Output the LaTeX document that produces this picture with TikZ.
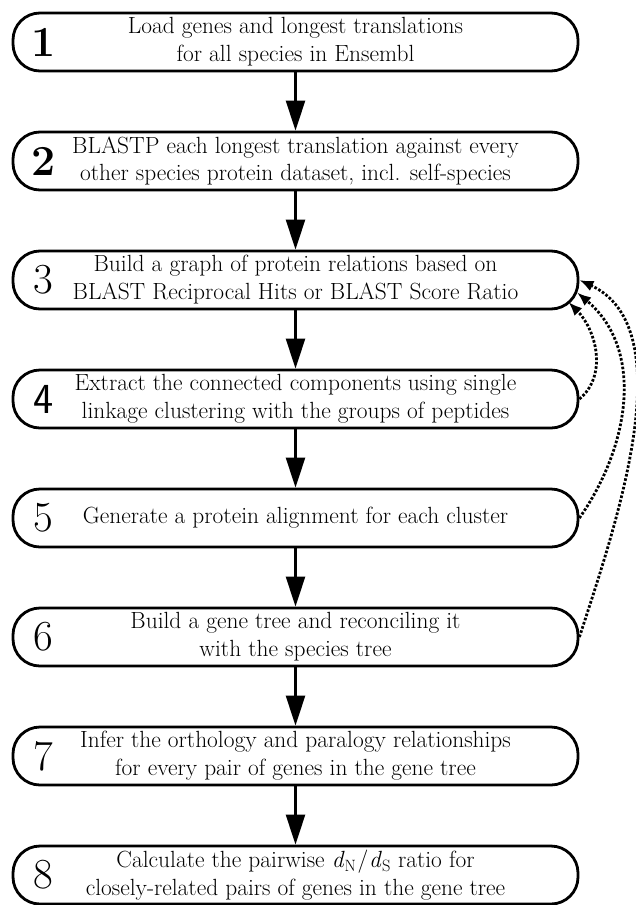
\documentclass[tikz,border=0pt]{standalone}
\usepackage{tikz}
\usetikzlibrary{arrows.meta,positioning}

\begin{document}
\begin{tikzpicture}[x=1bp,y=1bp,
  stepbox/.style={draw,line width=2.8bp,rounded corners=27bp,minimum width=565bp,minimum height=58bp,inner sep=0pt,align=center,font=\fontsize{23.5}{28}\selectfont},
  num/.style={inner sep=0pt,font=\fontsize{43}{43}\selectfont},
  arr/.style={-{Triangle[length=30bp,width=19bp]},line width=2.4bp},
  back/.style={-{Latex[length=14bp,width=11bp]},line width=2.8bp,dash pattern=on 2.6bp off 1.8bp},
  node distance=58.2bp]
\useasboundingbox (0,0) rectangle (636,-905);
\node[stepbox] (s1) at (295.5,-42) {Load genes and longest translations\\for all species in Ensembl};
\node[stepbox,below=of s1] (s2) {BLASTP each longest translation against every\\other species protein dataset, incl. self-species};
\node[stepbox,below=of s2] (s3) {Build a graph of protein relations based on\\BLAST Reciprocal Hits or BLAST Score Ratio};
\node[stepbox,below=of s3] (s4) {Extract the connected components using single\\linkage clustering with the groups of peptides};
\node[stepbox,below=of s4] (s5) {Generate a protein alignment for each cluster};
\node[stepbox,below=of s5] (s6) {Build a gene tree and reconciling it\\with the species tree};
\node[stepbox,below=of s6] (s7) {Infer the orthology and paralogy relationships\\for every pair of genes in the gene tree};
\node[stepbox,below=of s7] (s8) {Calculate the pairwise \textit{d}\textsubscript{N}\kern1bp/\kern1bp\textit{d}\textsubscript{S} ratio for\\closely-related pairs of genes in the gene tree};
\node[num] (n1) at ([xshift=32bp]s1.west) {\bfseries 1};
\node[num] (n2) at ([xshift=32bp]s2.west) {\bfseries 2};
\node[num] (n3) at ([xshift=32bp]s3.west) {3};
\node[num] (n4) at ([xshift=32bp]s4.west) {\sffamily 4};
\node[num] (n5) at ([xshift=32bp]s5.west) {5};
\node[num] (n6) at ([xshift=32bp]s6.west) {6};
\node[num] (n7) at ([xshift=32bp]s7.west) {7};
\node[num] (n8) at ([xshift=32bp]s8.west) {8};
\draw[arr] (s1.south) -- (s2.north);
\draw[arr] (s2.south) -- (s3.north);
\draw[arr] (s3.south) -- (s4.north);
\draw[arr] (s4.south) -- (s5.north);
\draw[arr] (s5.south) -- (s6.north);
\draw[arr] (s6.south) -- (s7.north);
\draw[arr] (s7.south) -- (s8.north);
\coordinate (t6) at (s3.east);
\coordinate (t5) at ([xshift=-2.3bp,yshift=-12.5bp]s3.east);
\coordinate (t4) at ([xshift=-11bp,yshift=-22bp]s3.east);
\draw[back] (s4.east) to[out=40,in=-45] (t4);
\draw[back] (s5.east) to[out=55,in=-40] (t5);
\draw[back] (s6.east) to[out=72,in=-25,looseness=0.83] (t6);
\end{tikzpicture}
\end{document}
